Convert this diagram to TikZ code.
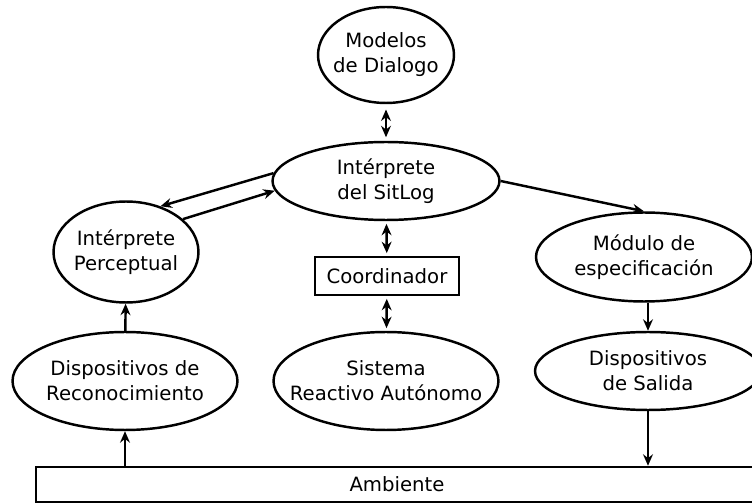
\documentclass[tikz,border=0pt]{standalone}
\usepackage{fontspec}
\setmainfont{DejaVu Sans}
\usepackage{tikz}
\usetikzlibrary{arrows.meta,shapes.geometric,positioning,calc}

\begin{document}
\begin{tikzpicture}[x=0.02cm, y=-0.02cm,
		texto/.style={align=center, inner sep=0pt, line width=1.4pt, font=\fontsize{11.2}{14.2}\selectfont},
		bloque/.style={texto, draw, ellipse, inner xsep=-10pt},
		caja/.style={texto, draw, rectangle},
		flecha/.style={line width=1.4pt, -{Stealth[length=6.5pt,width=5.6pt]}},
		doble/.style={line width=1.4pt, {Stealth[length=6.5pt,width=5.6pt]}-{Stealth[length=6.5pt,width=5.6pt]}, shorten <=1.5pt, shorten >=1.5pt}]
		\useasboundingbox (0,0) rectangle (752,503);

		\node[bloque, minimum width=2.72cm, minimum height=1.92cm] (modelos) at (386,55) {Modelos\\de Dialogo};
		\node[bloque, minimum width=4.54cm, minimum height=1.56cm] (sitlog) at (386,181) {Intérprete\\del SitLog};
		\node[bloque, minimum width=2.9cm, minimum height=2.02cm] (perceptual) at (126,252) {Intérprete\\Perceptual};
		\node[caja, minimum width=2.88cm, minimum height=0.76cm] (coordinador) at (387,276) {Coordinador};
		\node[bloque, minimum width=4.32cm, minimum height=1.78cm] (modulo) at (644,257) {Módulo de\\especificación};
		\node[bloque, minimum width=4.5cm, minimum height=1.96cm] (reconocimiento) at (125,381) {Dispositivos de\\Reconocimiento};
		\node[bloque, minimum width=4.5cm, minimum height=1.96cm] (sistema) at (386,381) {Sistema\\Reactivo Autónomo};
		\node[bloque, minimum width=4.52cm, minimum height=1.56cm] (salida) at (648,371) {Dispositivos\\de Salida};
		\node[caja, minimum width=14.44cm, minimum height=0.7cm] (ambiente) at (397,484.5) {Ambiente};

		\draw[doble, shorten <=3pt, shorten >=2pt] (modelos) -- (sitlog);
		\draw[doble] (sitlog) -- (coordinador);
		\draw[doble] (coordinador) -- (sistema);

		\draw[flecha] (sitlog.176.5) -- (perceptual.53);
		\draw[flecha] (perceptual.30.5) -- (sitlog.185.8);
		\draw[flecha] (sitlog.east) -- (modulo.north);
		\draw[flecha] (reconocimiento) -- (perceptual);
		\draw[flecha] (modulo.south -| salida.north) -- (salida.north);
		\draw[flecha] (reconocimiento.south |- ambiente.north) -- (reconocimiento.south);
		\draw[flecha] (salida.south) -- (salida.south |- ambiente.north);
	\end{tikzpicture}
\end{document}
